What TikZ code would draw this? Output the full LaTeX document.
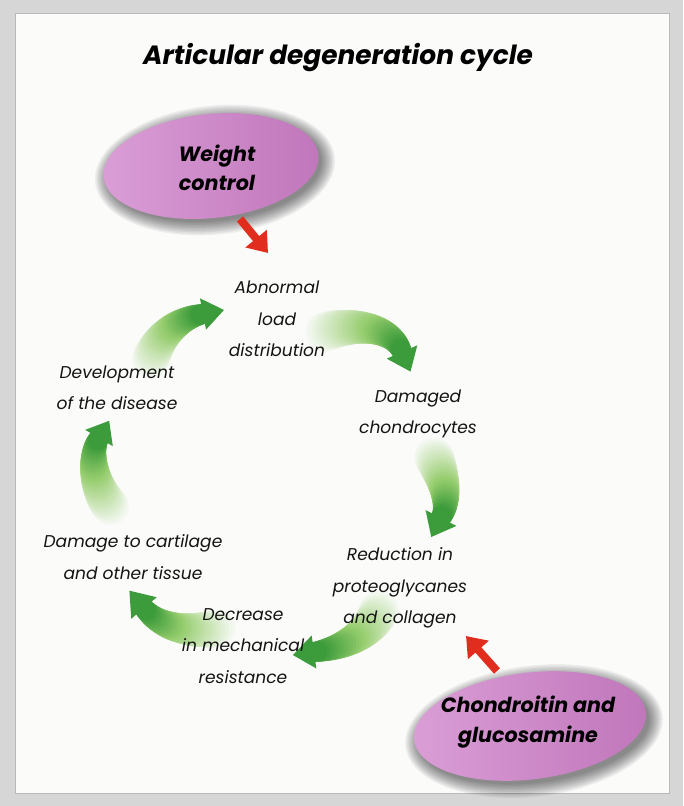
\documentclass[tikz,border=0pt]{standalone}
\usepackage{fontspec}
\setmainfont{Poppins}
\usetikzlibrary{shapes.geometric,arrows.meta,calc}
\definecolor{panel}{RGB}{251,251,250}
\definecolor{frame}{RGB}{214,214,214}
\definecolor{glight}{RGB}{150,205,110}
\definecolor{gdark}{RGB}{60,155,58}
\definecolor{ellA}{RGB}{218,158,214}
\definecolor{ellB}{RGB}{192,118,187}
\definecolor{redarr}{RGB}{225,45,30}

% #1 tail, #2 c1, #3 c2, #4 head base, #5 tail width (px), #6 head half width (pt), #7 head length (pt)
\newcommand\garrow[7]{%
  \path #1 .. controls #2 and #3 .. #4 \foreach \i in {0,...,30}{coordinate[pos=\i/30] (q\i)};
  \foreach \i in {0,...,29}{%
    \pgfmathtruncatemacro\jj{\i+1}%
    \pgfmathsetmacro\mixa{min(100,100*\i/17)}%
    \pgfmathsetmacro\mixb{max(0,100*(\i-17)/12)}%
    \pgfmathsetmacro\wid{(#5+(20-#5)*\i/29)*0.75}%
    \colorlet{tmpc}{glight!\mixa!panel}%
    \draw[line width=\wid pt, line cap=round, color=gdark!\mixb!tmpc] (q\i) -- (q\jj);
  }
  \fill[gdark] ($(q30)!-#7!(q29)$) -- ($(q30)!#6!90:(q29)$) -- ($(q30)!#6!-90:(q29)$) -- cycle;
}

\tikzset{
  cyc/.style={font=\itshape\fontsize{12.8}{23.5}\selectfont, align=center, text=black!92, inner sep=0pt},
  elltext/.style={font=\bfseries\itshape\fontsize{15.5}{22}\selectfont, align=center, text=black, inner sep=0pt},
  ellshape/.style={ellipse, draw=none, left color=ellA, right color=ellB, inner sep=0pt},
  redarrow/.style={draw=redarr, line width=6pt, -{Triangle[length=14pt, width=20pt]}, shorten >=0pt},
}

\begin{document}
\begin{tikzpicture}[x=0.75pt, y=-0.75pt]
\useasboundingbox (0,0) rectangle (683,806);
% frame and panel
\fill[frame] (0,0) rectangle (683,806);
\fill[panel] (15,13) rectangle (669,793);
\draw[gray!55, line width=0.6pt] (15,13) rectangle (669,793);

% title
\node[font=\bfseries\itshape\fontsize{19.8}{22}\selectfont, inner sep=0pt] (title) at (338,58) {Articular degeneration cycle};

% ellipse shadows
\foreach \k in {1,...,10}{
  \fill[black, opacity=0.055, rotate around={6:(215,170)}] (215,170) ellipse [x radius=108+14-1.5*\k, y radius=52+14-1.5*\k];
  \fill[black, opacity=0.055, rotate around={7:(534,731)}] (534,731) ellipse [x radius=117+14-1.5*\k, y radius=53+14-1.5*\k];
}
\node[ellshape, minimum width=162pt, minimum height=78pt, rotate=6] (wc) at (211,166) {};
\node[ellshape, minimum width=175pt, minimum height=80pt, rotate=7] (cg) at (530,726) {};
\node[elltext] (wct) at (217,168) {Weight\\control};
\node[elltext] (cgt) at (528,722) {Chondroitin and\\glucosamine};

% green cycle arrows
\garrow{(322,333)}{(352,322)}{(392,326)}{(402,352)}{40}{12.5pt}{16pt}
\garrow{(433,455)}{(442,475)}{(451,500)}{(441,518)}{40}{13pt}{16pt}
\garrow{(380,608)}{(372,632)}{(345,648)}{(314,652)}{40}{12.5pt}{16pt}
\garrow{(220,628)}{(190,633)}{(160,628)}{(144,608)}{38}{12.5pt}{17pt}
\garrow{(112,508)}{(95,490)}{(88,455)}{(99,438)}{38}{12pt}{15pt}
\garrow{(150,362)}{(158,335)}{(180,318)}{(203,314)}{38}{12pt}{16pt}

% cycle texts
\node[cyc] (abn) at (277,319) {Abnormal\\load\\distribution};
\node[cyc] (dmc) at (418,414) {Damaged\\chondrocytes};
\node[cyc] (red) at (400,588) {Reduction in\\proteoglycanes\\and collagen};
\node[cyc] (dec) at (243,646) {Decrease\\in mechanical\\resistance};
\node[cyc] (dmg) at (133,557) {Damage to cartilage\\and other tissue};
\node[cyc] (dev) at (117,388) {Development\\of the disease};

% red arrows
\coordinate (wcA) at (240,219);
\coordinate (wcB) at (268,253);
\coordinate (cgA) at (497,671);
\coordinate (cgB) at (466,636);
\draw[redarrow] (wcA) -- (wcB);
\draw[redarrow] (cgA) -- (cgB);
\end{tikzpicture}
\end{document}
